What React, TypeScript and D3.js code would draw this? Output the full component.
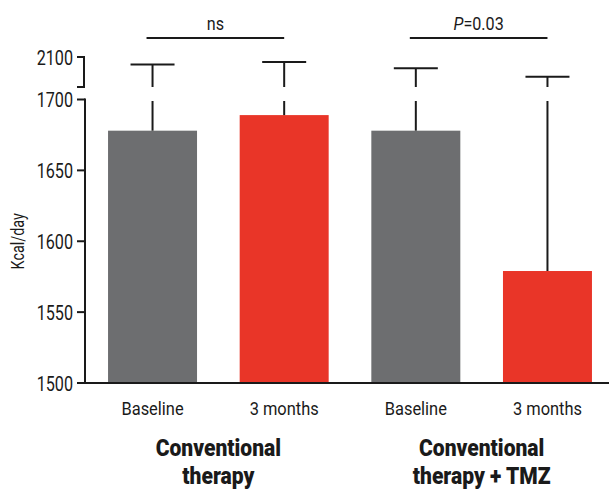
import React from 'react';
import * as d3 from 'd3';

// bars, in order: group x timepoint
const groupNames = [['Conventional', 'therapy'], ['Conventional', 'therapy + TMZ']];
const timepoints = ['Baseline', '3 months'];
const barKeys = ['ct-base', 'ct-3m', 'tmz-base', 'tmz-3m'];
const barLabels = ['Baseline', '3 months', 'Baseline', '3 months'];
const means = [1678, 1689, 1678, 1579];
const upperErrors = [2000, 2033, 1949, 1837];

// broken axis: lower part is linear, upper part is a compressed stub
const lowerTicks = [1500, 1550, 1600, 1650, 1700];
const upperTicks = [2100];
const breakValue = 1700;

const comparisons = [
  { from: 0, to: 1, label: 'ns', italic: '' },
  { from: 2, to: 3, label: '=0.03', italic: 'P' },
];

const colorByTime: Record<string, string> = { Baseline: '#6d6e70', '3 months': '#e93528' };
const FONT = 'Roboto, "Liberation Sans", sans-serif';
const INK = '#1a1a1a';

// condensed text: the reference uses a narrow face, so squeeze Roboto horizontally
const T = ({ x, y, sx = 0.85, size, anchor = 'middle', weight = 'normal', rotate = 0, children }: any) => (
  <text transform={`translate(${x},${y}) rotate(${rotate}) scale(${sx},1)`} textAnchor={anchor}
    fontSize={size} fontWeight={weight} fill={INK}>{children}</text>
);

const App = () => {
  const width = 609;
  const height = 490;

  const x = d3.scaleBand().domain(barKeys).range([85, 615]).paddingInner(0.324).paddingOuter(0.175);
  const yLow = d3.scaleLinear().domain([1500, breakValue]).range([383, 99.5]);
  const yHigh = d3.scaleLinear().domain([breakValue, 2100]).range([87, 57]);

  const cx = (i: number) => (x(barKeys[i]) as number) + x.bandwidth() / 2;
  const capHalf = 22;

  return (
    <svg width={width} height={height} style={{ position: 'absolute', left: 0, top: 0 }} fontFamily={FONT}>
      {/* bars */}
      {barKeys.map((k, i) => (
        <rect key={k} x={x(k)} y={yLow(means[i])} width={x.bandwidth()} height={yLow(1500) - yLow(means[i])}
          fill={colorByTime[barLabels[i]]} />
      ))}

      {/* error bars, split at the axis break */}
      {barKeys.map((k, i) => (
        <g key={k + '-err'} stroke={INK} strokeWidth={2}>
          <line x1={cx(i)} x2={cx(i)} y1={yLow(means[i])} y2={yLow(breakValue) + 1.5} />
          <line x1={cx(i)} x2={cx(i)} y1={yHigh(breakValue)} y2={yHigh(upperErrors[i])} />
          <line x1={cx(i) - capHalf} x2={cx(i) + capHalf} y1={yHigh(upperErrors[i])} y2={yHigh(upperErrors[i])} />
        </g>
      ))}

      {/* x axis */}
      <line x1={84} x2={609} y1={yLow(1500)} y2={yLow(1500)} stroke={INK} strokeWidth={2.2} />

      {/* lower y axis */}
      <line x1={85} x2={85} y1={yLow(breakValue) - 1} y2={yLow(1500)} stroke={INK} strokeWidth={2} />
      {lowerTicks.map(t => (
        <g key={t}>
          <line x1={77} x2={85} y1={yLow(t)} y2={yLow(t)} stroke={INK} strokeWidth={2} />
          <T x={73} y={yLow(t) + 7.5} size={21} sx={0.77} anchor="end">{t}</T>
        </g>
      ))}

      {/* upper y-axis stub */}
      <line x1={84} x2={84} y1={yHigh(2100) - 1} y2={yHigh(breakValue) + 1} stroke={INK} strokeWidth={2} />
      <line x1={77} x2={84} y1={yHigh(breakValue)} y2={yHigh(breakValue)} stroke={INK} strokeWidth={2} />
      {upperTicks.map(t => (
        <g key={t}>
          <line x1={77} x2={84} y1={yHigh(t)} y2={yHigh(t)} stroke={INK} strokeWidth={2} />
          <T x={73} y={yHigh(t) + 7.5} size={21} sx={0.77} anchor="end">{t}</T>
        </g>
      ))}

      {/* y label */}
      <T x={24} y={yLow(1600)} size={18} sx={0.8} rotate={-90}>Kcal/day</T>

      {/* bar labels */}
      {barKeys.map((k, i) => (
        <T key={k + '-lab'} x={cx(i)} y={415} size={17.5} sx={0.94}>{barLabels[i]}</T>
      ))}

      {/* group labels */}
      {groupNames.map((lines, g) => {
        const gx = (cx(g * timepoints.length) + cx(g * timepoints.length + 1)) / 2;
        return lines.map((l, j) => (
          <T key={`${g}-${j}`} x={gx} y={456 + j * 28} size={24.5} sx={0.86} weight={900}>{l}</T>
        ));
      })}

      {/* significance */}
      {comparisons.map((c, i) => {
        const x1 = cx(c.from) - 6;
        const x2 = cx(c.to);
        return (
          <g key={i}>
            <line x1={x1} x2={x2} y1={38} y2={38} stroke={INK} strokeWidth={2} />
            <T x={(x1 + x2) / 2} y={30} size={19} sx={0.85}>
              {c.italic && <tspan fontStyle="italic">{c.italic}</tspan>}
              {c.label}
            </T>
          </g>
        );
      })}
    </svg>
  );
};

export default App;
